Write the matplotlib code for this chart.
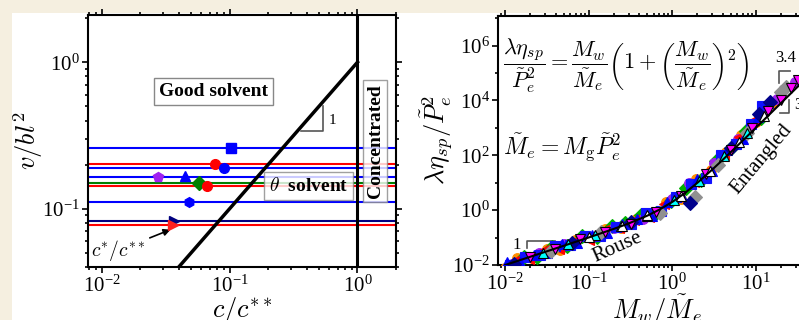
import numpy as np
import matplotlib.pyplot as plt
from matplotlib.patches import Rectangle
from matplotlib.ticker import LogLocator, FixedLocator, NullFormatter

plt.rcParams['font.family'] = ['Liberation Serif', 'DejaVu Serif']
plt.rcParams['mathtext.fontset'] = 'cm'

# ---- left panel: solvent quality vs concentration ----
line_y = [0.259, 0.202, 0.189, 0.164, 0.150, 0.142, 0.112, 0.083, 0.077]
line_colors = ['#0000ff', '#ff0000', '#0000ff', '#0000ff', '#008000',
               '#ff0000', '#0000ff', '#000080', '#ff0000']
pt_x = [0.102, 0.077, 0.091, 0.0275, 0.045, 0.058, 0.066, 0.048, 0.0366, 0.036]
pt_y = [0.259, 0.202, 0.189, 0.164, 0.166, 0.150, 0.142, 0.112, 0.083, 0.077]
pt_colors = ['#0000ff', '#ff0000', '#0000ff', '#a020f0', '#0000ff', '#008000',
             '#ff0000', '#0000ff', '#000080', '#ff2020']
pt_markers = ['s', 'o', 'o', 'p', '^', 'D', 'o', 'h', '>', '>']
crossover_x = [0.04, 1.0]
crossover_y = [0.04, 1.0]

# ---- right panel: scaled specific viscosity ----
blue_tri_x = [0.0105, 0.0151, 0.0219, 0.0316, 0.0479, 0.0724, 0.110, 0.166, 0.251, 0.380,
              0.575, 0.871, 1.32, 2.0, 3.02, 4.57, 6.92, 10.5, 13.8]
blue_tri_y = [0.0126, 0.0128, 0.0241, 0.0284, 0.060, 0.0655, 0.128, 0.145, 0.32, 0.48,
              0.61, 1.99, 3.26, 14, 27.5, 160, 406, 2570, 7920]
blue_sq_x = [0.0115, 0.0174, 0.0263, 0.0398, 0.0603, 0.0912, 0.138, 0.209, 0.316, 0.479,
             0.724, 1.10, 1.66, 2.51, 3.80, 5.75, 8.71, 12.0]
blue_sq_y = [0.0104, 0.020, 0.0224, 0.0479, 0.0545, 0.115, 0.113, 0.251, 0.313, 0.766,
             0.94, 2.92, 9.3, 14.7, 100, 255, 1340, 6090]
red_x = [0.0126, 0.0191, 0.0288, 0.0437, 0.0661, 0.1, 0.151, 0.229, 0.347, 0.525,
         0.794, 1.20, 1.82, 2.75, 4.17, 6.31, 9.55]
red_y = [0.0145, 0.0172, 0.0346, 0.0372, 0.073, 0.081, 0.185, 0.217, 0.428, 0.57,
         1.68, 2.93, 11, 28.2, 100, 464, 1940]
orange_x = [0.01, 0.0138, 0.0209, 0.0316, 0.0457, 0.0692, 0.105, 0.158, 0.240, 0.363,
            0.550, 0.832, 1.259, 1.905, 2.88, 4.37, 6.61, 10.0, 13.2, 15.85]
orange_y = [0.008, 0.0179, 0.0178, 0.0395, 0.0366, 0.0834, 0.095, 0.211, 0.216, 0.473,
            0.644, 1.97, 2.61, 14.1, 29.5, 132, 562, 1620, 5550, 7980]
green_x = [0.0166, 0.024, 0.0363, 0.055, 0.0832, 0.126, 0.191, 0.275, 0.417, 0.631,
           0.955, 1.445, 2.188, 3.311, 5.01, 7.59, 11.5]
green_y = [0.0199, 0.0192, 0.0472, 0.0497, 0.113, 0.109, 0.257, 0.326, 0.686, 0.794,
           2.19, 6.69, 12.7, 63.4, 183, 801, 2300]
purple_x = [0.012, 0.0251, 0.0501, 0.112, 0.2, 0.447, 1.0, 1.585, 3.16, 6.03, 17.8, 29.5]
purple_y = [0.0108, 0.0276, 0.060, 0.103, 0.229, 0.482, 2.6, 10, 52, 383, 11300, 46300]
magenta_x = [0.02, 0.0398, 0.0794, 0.158, 0.316, 0.631, 1.259, 2.512, 5.01, 8.91,
             14.13, 19.95, 26.3, 31.6]
magenta_y = [0.02, 0.0399, 0.0879, 0.162, 0.313, 0.882, 3.26, 20.2, 157, 1000,
             4250, 10300, 29100, 53800]
cyan_x = [0.0282, 0.0562, 0.120, 0.240, 0.501, 1.047, 2.089, 4.17, 7.94]
cyan_y = [0.0282, 0.0592, 0.122, 0.267, 0.627, 2.41, 11.2, 92, 662]
gray_x = [0.0355, 0.141, 0.708, 1.862, 3.548, 7.94, 19.95, 22.9]
gray_y = [0.032, 0.158, 0.80, 2.9, 43.4, 662, 19900, 30000]
navy_x = [0.0126, 0.0631, 0.316, 1.622, 5.01, 10.96, 14.8]
navy_y = [0.0113, 0.0634, 0.383, 1.77, 183, 3320, 8470]
open_x = [0.1, 0.251, 0.501, 1.259, 2.818, 6.31, 12.59]
open_y = [0.101, 0.267, 0.658, 3.26, 27.7, 310, 2810]

# model curve  lambda*eta_sp/Pe^2 = x (1 + x^2)
model_x = [0.01, 0.02, 0.05, 0.1, 0.2, 0.3, 0.5, 0.7, 1, 1.3, 1.5, 2, 3, 4, 5, 7, 10, 15, 20, 25, 33]
model_y = [0.01, 0.02, 0.0501, 0.101, 0.208, 0.327, 0.625, 1.043, 2.0, 3.497, 4.875, 10, 30, 68,
           130, 350, 1010, 3390, 8020, 15650, 35970]

fig = plt.figure(figsize=(7.99, 3.2), dpi=100, facecolor='#f5efe0')
fig.add_artist(Rectangle((12 / 799, 0), 1, 1 - 13 / 320, transform=fig.transFigure,
                         facecolor='white', edgecolor='none', zorder=0))

ax1 = fig.add_axes([0.1101, 0.1656, 0.3855, 0.7875])
ax2 = fig.add_axes([0.6233, 0.1719, 0.3993, 0.778])

for ax in (ax1, ax2):
    ax.set_xscale('log')
    ax.set_yscale('log')
    for s in ax.spines.values():
        s.set_linewidth(1.5)
    ax.tick_params(which='both', direction='out', top=True, right=True, width=1.2,
                   labelsize=15, pad=2)
    ax.tick_params(which='major', length=4)
    ax.tick_params(which='minor', length=2.5)

# left panel
ax1.set_xlim(0.0078, 2.0)
ax1.set_ylim(0.04, 2.1)
for y, c in zip(line_y, line_colors):
    ax1.axhline(y, color=c, lw=1.5, zorder=2)
ax1.plot(crossover_x, crossover_y, color='black', lw=2.5, zorder=3)
ax1.axvline(1.0, color='black', lw=2.2, zorder=3)
for x, y, c, m in zip(pt_x, pt_y, pt_colors, pt_markers):
    ax1.plot(x, y, marker=m, color=c, ms=7, ls='none', zorder=5)

box = dict(boxstyle='square,pad=0.25', facecolor='white', edgecolor='#888888', lw=1)
ax1.text(0.408, 0.696, 'Good solvent', transform=ax1.transAxes, ha='center', va='center',
         fontsize=14, fontweight='bold', bbox=box, zorder=4)
ax1.text(0.715, 0.321, r'$\theta$  solvent', transform=ax1.transAxes, ha='center', va='center',
         fontsize=14, fontweight='bold',
         bbox=dict(boxstyle='square,pad=0.25', facecolor='white', alpha=0.8,
                   edgecolor='#888888', lw=1), zorder=4)
ax1.text(0.932, 0.5, 'Concentrated', transform=ax1.transAxes, ha='center', va='center',
         rotation=90, fontsize=14, fontweight='bold',
         bbox=dict(boxstyle='square,pad=0.2', facecolor='white', alpha=0.8,
                   edgecolor='#888888', lw=1), zorder=4)
ax1.plot([0.36, 0.54, 0.54], [0.337, 0.337, 0.50], color='#555555', lw=1.2, zorder=4)
ax1.text(0.6, 0.40, '1', fontsize=11, ha='left', va='center')
ax1.annotate(r'$c^{*}/c^{**}$', xy=(0.0345, 0.072), xytext=(0.0083, 0.052),
             fontsize=14, ha='left', va='center',
             arrowprops=dict(arrowstyle='-|>', color='black', lw=1.2, mutation_scale=10,
                             shrinkA=1, shrinkB=0))
ax1.set_xlabel(r'$c/c^{**}$', fontsize=19, labelpad=-1)
ax1.set_ylabel(r'$v/bl^2$', fontsize=19, labelpad=-2)
ax1.xaxis.set_major_locator(FixedLocator([0.01, 0.1, 1]))
ax1.yaxis.set_major_locator(FixedLocator([0.1, 1]))

# right panel
ax2.set_xlim(0.0082, 54)
ax2.set_ylim(0.01, 1.2e7)
series = [
    (orange_x, orange_y, 'o', '#ff8c00', '#ff8c00'),
    (green_x, green_y, 'D', '#00b000', '#00b000'),
    (purple_x, purple_y, 'o', '#a020f0', '#a020f0'),
    (red_x, red_y, '<', '#ff0000', '#ff0000'),
    (blue_sq_x, blue_sq_y, 's', '#1010ff', '#1010ff'),
    (blue_tri_x, blue_tri_y, '^', '#0000ff', '#0000ff'),
    (gray_x, gray_y, 'D', '#909090', '#909090'),
    (navy_x, navy_y, 'D', '#00008b', '#00008b'),
    (cyan_x, cyan_y, '^', '#00ffff', 'black'),
    (magenta_x, magenta_y, 'v', '#ff00ff', 'black'),
    (open_x, open_y, '^', 'white', 'black'),
]
for sx, sy, m, fc, ec in series:
    ax2.plot(sx, sy, ls='none', marker=m, ms=7, mfc=fc, mec=ec, mew=0.8, zorder=3)
ax2.plot(model_x, model_y, color='black', lw=1.5, zorder=4)

ax2.plot([0.0184, 0.0184, 0.0389], [0.0416, 0.0747, 0.0747], color='#555555', lw=1.2)
ax2.text(0.0139, 0.0537, '1', fontsize=12, ha='center', va='center')
ax2.plot([18.9, 18.9, 25.7], [44700, 123000, 123000], color='#555555', lw=1.2)
ax2.text(22.4, 363000, '3.4', fontsize=12, ha='center', va='center')
ax2.plot([19.5, 25.1, 25.1], [3630, 3630, 10000], color='#555555', lw=1.2)
ax2.text(32, 6600, '3', fontsize=12, ha='center', va='center')
ax2.text(0.22, 0.043, 'Rouse', fontsize=15, rotation=24, ha='center', va='center')
ax2.text(11.5, 70, 'Entangled', fontsize=15, rotation=50, ha='center', va='center')

ax2.text(0.016, 0.80,
         r'$\dfrac{\lambda\eta_{sp}}{\tilde{P}_e^2} = \dfrac{M_w}{\tilde{M}_e}'
         r'\left(1+\left(\dfrac{M_w}{\tilde{M}_e}\right)^2\right)$',
         transform=ax2.transAxes, fontsize=16, ha='left', va='center')
ax2.text(0.016, 0.47, r'$\tilde{M}_e = M_{\rm g}\tilde{P}_e^2$', transform=ax2.transAxes,
         fontsize=17, ha='left', va='center')
ax2.set_xlabel(r'$M_w/\tilde{M}_e$', fontsize=19, labelpad=-1)
ax2.set_ylabel(r'$\lambda\eta_{sp}/\tilde{P}_e^2$', fontsize=19, labelpad=-3)
ax2.xaxis.set_major_locator(FixedLocator([0.01, 0.1, 1, 10]))
ax2.yaxis.set_major_locator(FixedLocator([1e-2, 1, 1e2, 1e4, 1e6]))
ax2.yaxis.set_minor_locator(FixedLocator([1e-1, 1e1, 1e3, 1e5, 1e7]))
ax2.yaxis.set_minor_formatter(NullFormatter())

fig.savefig('out.png', dpi=100, facecolor=fig.get_facecolor())
